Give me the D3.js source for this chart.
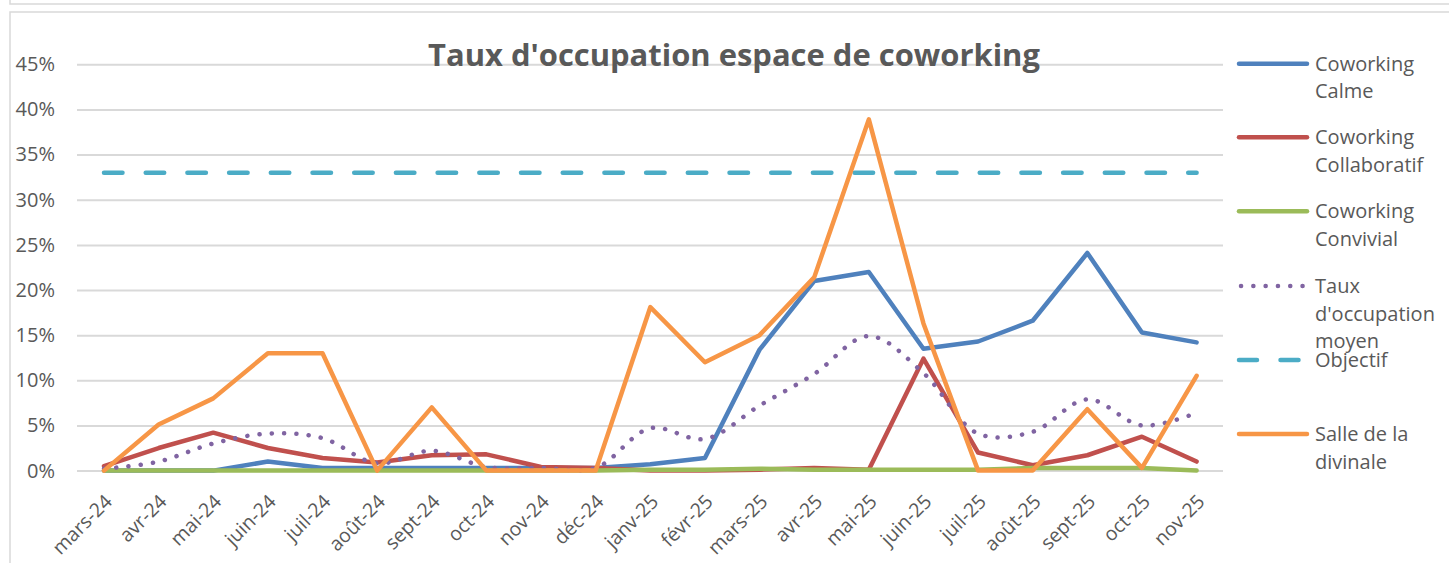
<!DOCTYPE html>
<html>
<head>
<meta charset="utf-8">
<script src="https://cdn.jsdelivr.net/npm/d3@7"></script>
<style>
  body { margin: 0; background: #fff; }
  text { font-family: "Open Sans", sans-serif; fill: #595959; }
</style>
</head>
<body>
<div id="chart"></div>
<script>
// data (percent)
var months = ["mars-24", "avr-24", "mai-24", "juin-24", "juil-24", "août-24", "sept-24", "oct-24",
    "nov-24", "déc-24", "janv-25", "févr-25", "mars-25", "avr-25", "mai-25", "juin-25", "juil-25",
    "août-25", "sept-25", "oct-25", "nov-25"];
var calme = [0, 0, 0, 1.0, 0.3, 0.3, 0.3, 0.3, 0.3, 0.3, 0.7, 1.4, 13.4, 21.0, 22.0, 13.5, 14.3, 16.6, 24.1, 15.3, 14.2];
var collaboratif = [0.5, 2.5, 4.2, 2.5, 1.4, 0.9, 1.7, 1.8, 0.4, 0.3, 0, 0, 0.1, 0.3, 0.1, 12.4, 2.0, 0.6, 1.7, 3.75, 1.0];
var convivial = [0, 0, 0, 0, 0, 0, 0, 0, 0, 0, 0.1, 0.1, 0.2, 0.1, 0.1, 0.1, 0.1, 0.3, 0.3, 0.3, 0];
var moyen = [0.2, 1.0, 3.0, 4.1, 3.6, 0.8, 2.2, 0.4, 0.3, 0.3, 4.7, 3.5, 7.2, 10.7, 14.9, 10.8, 4.1, 4.3, 7.9, 5.0, 6.4];
var objectif = [33, 33, 33, 33, 33, 33, 33, 33, 33, 33, 33, 33, 33, 33, 33, 33, 33, 33, 33, 33, 33];
var divinale = [0, 5.1, 8.0, 13.0, 13.0, 0, 7.0, 0, 0, 0, 18.1, 12.0, 15.0, 21.4, 38.9, 16.3, 0, 0, 6.8, 0.3, 10.5];
var yTicks = [0, 5, 10, 15, 20, 25, 30, 35, 40, 45];

var width = 1449;
var height = 563;

var svg = d3.select("#chart")
    .append("svg")
    .attr("width", width)
    .attr("height", height)

/*
    frames of the excel chart
*/
svg.append("rect")
    .attr("x", 10).attr("y", -10).attr("width", 1460).attr("height", 14)
    .attr("fill", "none").attr("stroke", "#d9d9d9").attr("stroke-width", 1.5)
svg.append("rect")
    .attr("x", 10).attr("y", 12).attr("width", 1460).attr("height", 600)
    .attr("fill", "none").attr("stroke", "#d9d9d9").attr("stroke-width", 1.5)

var x = d3.scalePoint()
    .domain(months)
    .range([104, 1196.6])

var y = d3.scaleLinear()
    .domain([0, 45])
    .range([470.6, 64.3])

// gridlines + y labels
var yAxis = d3.axisLeft(y)
    .tickValues(yTicks)
    .tickSize(-(1223 - 77))
    .tickPadding(22)
    .tickFormat(function (d) { return d + "%"; })

var gy = svg.append("g")
    .attr("transform", "translate(77,0)")
    .call(yAxis)
gy.select(".domain").remove()
gy.selectAll("line").attr("stroke", "#d9d9d9").attr("stroke-width", 2)
gy.selectAll("text").attr("font-size", 20).attr("fill", "#595959")
    .style("font-family", "'Open Sans', sans-serif")

// x labels, rotated
var xAxis = d3.axisBottom(x).tickSize(0).tickPadding(0)
var gx = svg.append("g")
    .attr("transform", "translate(0,480)")
    .call(xAxis)
gx.select(".domain").remove()
gx.selectAll("text")
    .attr("font-size", 19.5)
    .attr("fill", "#595959")
    .style("font-family", "'Open Sans', sans-serif")
    .attr("text-anchor", "end")
    .attr("dy", "0.35em")
    .attr("transform", "translate(4,18) rotate(-45)")

/*
    series, drawn in the excel order
*/
var series = [
    { name: "Coworking\nCalme", values: calme, color: "#4f81bd", style: "solid" },
    { name: "Coworking\nCollaboratif", values: collaboratif, color: "#c0504d", style: "solid" },
    { name: "Coworking\nConvivial", values: convivial, color: "#9bbb59", style: "solid" },
    { name: "Taux\nd'occupation\nmoyen", values: moyen, color: "#8064a2", style: "dot" },
    { name: "Objectif", values: objectif, color: "#4bacc6", style: "dash" },
    { name: "Salle de la\ndivinale", values: divinale, color: "#f79646", style: "solid" }
];

var line = d3.line()
    .x(function (d, i) { return x(months[i]); })
    .y(function (d) { return y(d); })

var smooth = d3.line()
    .x(function (d, i) { return x(months[i]); })
    .y(function (d) { return y(d); })
    .curve(d3.curveCatmullRom.alpha(0.5))

function styleLine(sel, s) {
    sel.attr("fill", "none")
        .attr("stroke", s.color)
        .attr("stroke-linejoin", "round")
        .attr("stroke-linecap", "round")
    if (s.style == "dot") {
        sel.attr("stroke-width", 4.5).attr("stroke-dasharray", "0.1,12.2")
    } else if (s.style == "dash") {
        sel.attr("stroke-width", 4.5).attr("stroke-dasharray", "18.5,23.2")
    } else {
        sel.attr("stroke-width", 4.5)
    }
}

series.forEach(function (s) {
    var p = svg.append("path")
        .attr("d", s.style == "dot" ? smooth(s.values) : line(s.values))
    styleLine(p, s)
})

// title
var title = svg.append("text")
    .attr("x", 734)
    .attr("y", 66)
    .attr("text-anchor", "middle")
    .attr("font-weight", "bold")
    .attr("font-size", 30)
    .text("Taux d'occupation espace de coworking")
var tw = title.node().getComputedTextLength()
title.attr("font-size", 30 * 612 / tw)

/*
    legend on the right
*/
var legendY = [63.7, 137.3, 211.3, 286, 360, 434];
series.forEach(function (s, i) {
    var g = svg.append("g").attr("transform", "translate(0," + legendY[i] + ")")
    var l = g.append("line")
        .attr("x1", 1239).attr("x2", 1307).attr("y1", 0).attr("y2", 0)
    styleLine(l, s)
    if (s.style == "dash") l.attr("stroke-dasharray", "18,23.5")
    if (s.style == "dot") l.attr("x1", 1241).attr("x2", 1303)
    var t = g.append("text")
        .attr("x", 1315)
        .attr("y", 7)
        .attr("font-size", 20)
    s.name.split("\n").forEach(function (part, j) {
        t.append("tspan").attr("x", 1315).attr("dy", j == 0 ? 0 : 27.5).text(part)
    })
})
</script>
</body>
</html>
